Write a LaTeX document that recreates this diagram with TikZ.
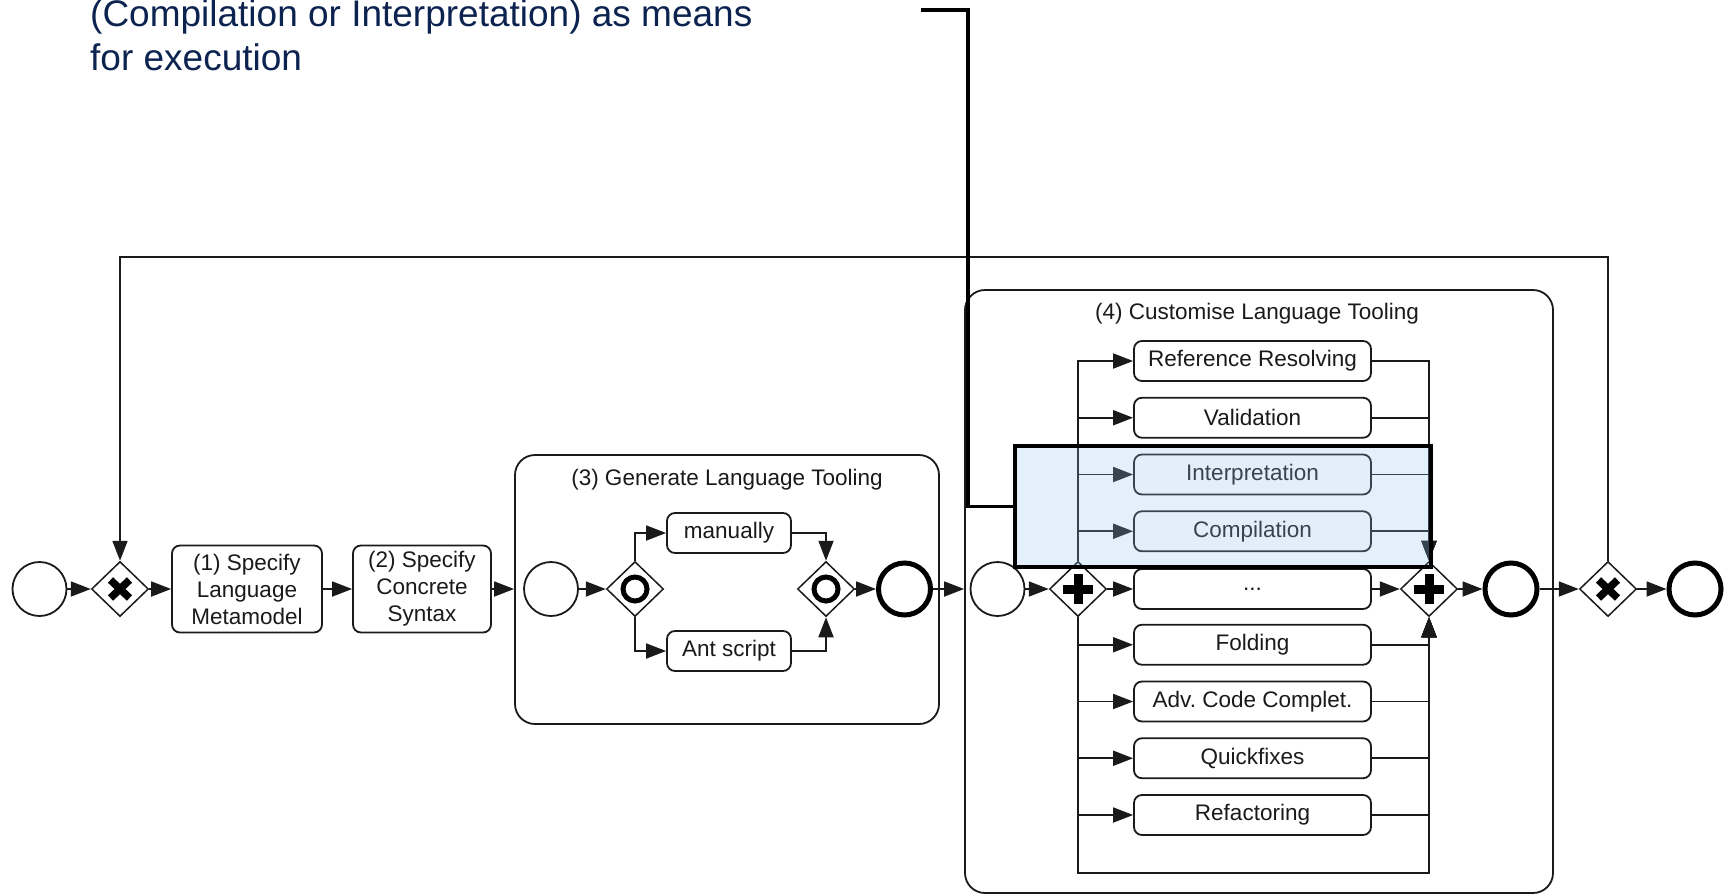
\documentclass[tikz,border=0pt]{standalone}
\usepackage{fontspec}
\setmainfont{Liberation Sans}
\usetikzlibrary{shapes.geometric,arrows.meta,calc}
\definecolor{ink}{HTML}{1A1A1A}
\definecolor{navy}{RGB}{12,35,80}
\definecolor{hlblue}{RGB}{143,195,243}
\frenchspacing
\begin{document}
\begin{tikzpicture}[x=1pt,y=-1pt,
  every node/.style={font=\fontsize{22.5}{27}\selectfont, text=ink},
  conn/.style={draw=ink, line width=1.8pt},
  arr/.style={conn, -{Triangle[length=20pt,width=15pt]}},
  task/.style={draw=ink, line width=1.8pt, rounded corners=8pt, fill=white, inner sep=0pt, align=center},
  subp/.style={draw=ink, line width=1.8pt, rounded corners=20pt, inner sep=0pt},
  startev/.style={circle, draw=ink, line width=1.8pt, minimum size=54pt, inner sep=0pt},
  endev/.style={circle, draw=black, line width=5pt, minimum size=52pt, inner sep=0pt},
  gw/.style={diamond, draw=ink, line width=1.5pt, minimum width=57pt, minimum height=55pt, inner sep=0pt, fill=white},
  ctask/.style={task, minimum width=237pt, minimum height=40pt},
  gwmark/.style={draw=black, line cap=butt}
]
\useasboundingbox (0,0) rectangle (1727,894);

% sub-processes
\node[subp, minimum width=424pt, minimum height=269pt] (sub3) at (727,589.5) {};
\node (sub3t) at (727,480) {(3) Generate Language Tooling};
\node[subp, minimum width=588pt, minimum height=603pt] (sub4) at (1259,591.5) {};
\node (sub4t) at (1257,314) {(4) Customise Language Tooling};

% main flow nodes
\node[startev] (s0) at (39.5,589) {};
\node[gw] (xg1) at (120,589) {};
\node[task, minimum width=150pt, minimum height=87pt] (t1) at (247,589) {(1) Specify\\Language\\Metamodel};
\node[task, minimum width=138pt, minimum height=87pt] (t2) at (422,589) {(2) Specify\\Concrete\\Syntax};

% inside sub3
\node[startev] (s3) at (551,589) {};
\node[gw] (og1) at (635,589) {};
\node[task, minimum width=124pt, minimum height=40pt] (man) at (729,533) {manually};
\node[task, minimum width=124pt, minimum height=40pt] (ant) at (729,651) {Ant script};
\node[gw] (og2) at (826,589) {};
\node[endev] (e3) at (904.5,589) {};

% inside sub4
\node[startev] (s4) at (997.5,589) {};
\node[gw] (pf) at (1078,589) {};
\node[gw] (pj) at (1429,589) {};
\node[endev] (e4) at (1511,589) {};
\node[ctask] (rr) at (1252.5,361) {Reference Resolving};
\node[ctask] (va) at (1252.5,417.75) {Validation};
\node[ctask] (ip) at (1252.5,474.5) {Interpretation};
\node[ctask] (co) at (1252.5,531.25) {Compilation};
\node[ctask] (dots) at (1252.5,589) {...};
\node[ctask] (fo) at (1252.5,644.75) {Folding};
\node[ctask] (ac) at (1252.5,701.5) {Adv. Code Complet.};
\node[ctask] (qf) at (1252.5,758.25) {Quickfixes};
\node[ctask] (rf) at (1252.5,815) {Refactoring};

% after
\node[gw] (xg2) at (1608,589) {};
\node[endev] (ef) at (1695,589) {};

% gateway markers
\foreach \g in {xg1,xg2}{
  \draw[gwmark, line width=7.5pt] ($(\g)+(-9.5,-9)$) -- ($(\g)+(9.5,9)$) ($(\g)+(-9.5,9)$) -- ($(\g)+(9.5,-9)$);
}
\foreach \g in {pf,pj}{
  \draw[gwmark, line width=9pt] ($(\g)+(-15,0)$) -- ($(\g)+(15,0)$) ($(\g)+(0,-15)$) -- ($(\g)+(0,15)$);
}
\foreach \g in {og1,og2}{
  \draw[gwmark, line width=5pt] (\g) circle[radius=12pt];
}

% connectors main
\draw[arr] (s0) -- (xg1);
\draw[arr] (xg1) -- (t1);
\draw[arr] (t1) -- (t2);
\draw[arr] (t2.east) -- (t2.east -| sub3.west);
% sub3
\draw[arr] (s3) -- (og1);
\draw[arr] (og1.north) |- (man.west);
\draw[arr] (og1.south) |- (ant.west);
\draw[arr] (man.east) -| (og2.north);
\draw[arr] (ant.east) -| (og2.south);
\draw[arr] (og2) -- (e3);
\draw[arr] (e3.east) -- (e3.east -| sub4.west);
% sub4
\draw[arr] (s4) -- (pf);
\foreach \t in {rr,va,ip,co}{
  \draw[arr] (pf.north) |- (\t.west);
  \draw[arr] (\t.east) -| (pj.north);
}
\draw[arr] (pf) -- (dots);
\draw[arr] (dots) -- (pj);
\foreach \t in {fo,ac,qf,rf}{
  \draw[arr] (pf.south) |- (\t.west);
  \draw[arr] (\t.east) -| (pj.south);
}
\coordinate (lb) at (0,873);
\draw[arr] (pf.south) -- (pf.south |- lb) -| (pj.south);
\draw[arr] (pj) -- (e4);
\draw[arr] (e4) -- (xg2);
\draw[arr] (xg2) -- (ef);
\coordinate (looptop) at (0,257);
\draw[arr] (xg2.north) -- (xg2.north |- looptop) -| (xg1.north);

% highlight overlay
\node[draw=black, line width=3.5pt, fill=hlblue, fill opacity=0.25, minimum width=416pt, minimum height=121pt, inner sep=0pt] (hl) at (1223,506.5) {};

% callout
\coordinate (c0) at (921,10);
\coordinate (c1) at (968,10);
\draw[black, line width=3.3pt] (c0) -- (c1) |- (hl.west);
\node[anchor=base west, inner sep=0pt, text=navy, font=\fontsize{37}{45}\selectfont] (cl1) at (90,26) {(Compilation or Interpretation) as means};
\node[anchor=base west, inner sep=0pt, text=navy, font=\fontsize{37}{45}\selectfont] (cl2) at (90,70) {for execution};
\end{tikzpicture}
\end{document}
